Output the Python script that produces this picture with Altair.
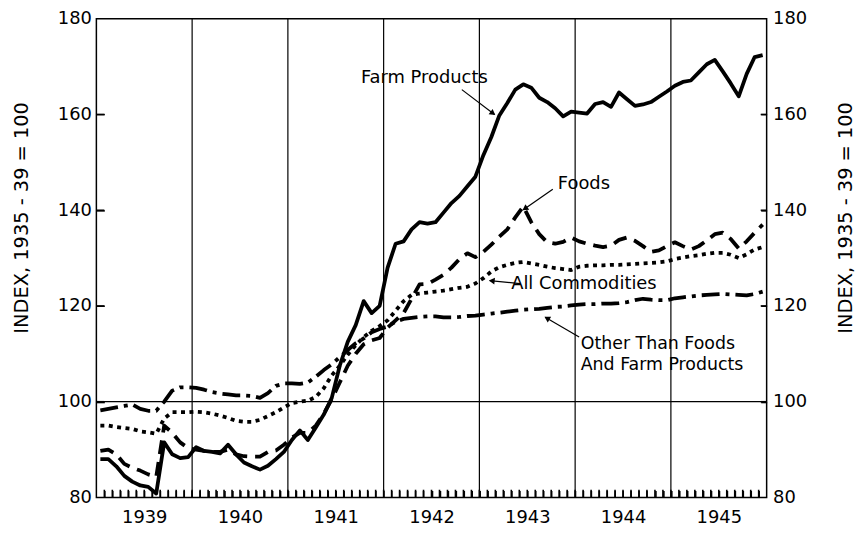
import math
import json
import altair as alt
import pandas as pd

# ---------------- data (monthly index values, Jan 1939 .. Dec 1945) ----------------
YEARS = ["1939", "1940", "1941", "1942", "1943", "1944", "1945"]

FARM = [
    88, 88, 86.5, 84.5, 83.3, 82.5, 82.2, 80.8, 91.5, 89, 88.2, 88.4,
    90.5, 89.7, 89.5, 89.2, 91, 89, 87.3, 86.5, 85.8, 86.6, 88, 89.5,
    92, 94, 92, 94.6, 97.3, 100.8, 107.5, 112.5, 116, 121, 118.5, 120,
    128, 133, 133.5, 136, 137.5, 137.2, 137.5, 139.5, 141.5, 143, 145, 147,
    151.5, 155.3, 159.8, 162.4, 165.2, 166.3, 165.6, 163.5, 162.6, 161.3, 159.6, 160.6,
    160.4, 160.2, 162.2, 162.6, 161.6, 164.6, 163.2, 161.8, 162.1, 162.6, 163.7, 164.8,
    166, 166.8, 167.1, 168.8, 170.5, 171.4, 169, 166.5, 163.8, 168.5, 172, 172.4,
]

FOODS = [
    89.7, 90, 89, 87, 86.2, 85.6, 84.8, 84.3, 95, 93.5, 91.5, 90.3,
    90, 89.7, 89.5, 89.5, 90, 89, 88.6, 88.5, 88.5, 89.5, 89.8, 91,
    92.5, 93.5, 93.5, 95, 97.5, 100.5, 104, 107.5, 110, 112, 112.8, 113.3,
    115.5, 117, 118.5, 121.5, 124.5, 124.6, 125.5, 126.5, 128, 129.8, 131, 130.2,
    131.3, 132.8, 134.5, 136, 138.5, 140.8, 137.5, 135, 133.3, 133, 133.4, 134.3,
    133.5, 133, 132.6, 132.3, 132.6, 133.8, 134.3, 133.6, 132.5, 131.3, 131.6, 132.5,
    133.3, 132.5, 131.8, 132.5, 133.7, 135, 135.3, 134, 132, 133.5, 135.3, 137,
]

ALL_COMM = [
    95, 95, 94.7, 94.5, 94.3, 93.8, 93.6, 93.3, 96.5, 97.8, 97.8, 97.8,
    97.9, 97.8, 97.5, 97.1, 96.6, 96, 95.8, 95.8, 96.2, 97, 97.8, 98.8,
    99.7, 100, 100.2, 101, 102.8, 105.5, 107.5, 109.8, 111.8, 113.5, 114.8, 115.8,
    117, 119, 121, 122.3, 122.6, 122.8, 123, 123.2, 123.5, 123.8, 124, 124.7,
    125.8, 127.2, 128.1, 128.6, 129, 129.2, 128.9, 128.6, 128.2, 127.9, 127.7, 127.5,
    128.2, 128.4, 128.5, 128.5, 128.6, 128.6, 128.7, 128.8, 128.9, 129, 129.1, 129.3,
    129.8, 130.1, 130.4, 130.6, 130.9, 131.1, 131.1, 130.7, 130, 130.8, 131.8, 132.3,
]

OTHER = [
    98.2, 98.5, 98.8, 99.1, 99.4, 98.5, 98.1, 98.1, 100, 102.3, 103, 103,
    102.9, 102.5, 102, 101.7, 101.5, 101.3, 101.3, 101.2, 100.8, 101.8, 103.3, 103.8,
    103.8, 103.7, 104, 105.2, 106.6, 107.8, 109.3, 110.8, 112.2, 113.2, 114.5, 115.2,
    115.7, 116.7, 117.3, 117.5, 117.7, 117.8, 117.8, 117.6, 117.6, 117.7, 117.9, 118,
    118.2, 118.4, 118.6, 118.8, 119, 119.2, 119.3, 119.4, 119.6, 119.8, 119.9, 120.1,
    120.3, 120.4, 120.4, 120.5, 120.5, 120.6, 120.8, 121.2, 121.5, 121.3, 121.2, 121.2,
    121.6, 121.8, 122, 122.2, 122.3, 122.4, 122.5, 122.4, 122.3, 122.2, 122.5, 123,
]

SERIES = ["Farm Products", "Foods", "All Commodities", "Other"]
Y_TICKS = [80, 100, 120, 140, 160, 180]
YEAR_BOUNDS = [11.5, 23.5, 35.5, 47.5, 59.5, 71.5]
YEAR_CENTERS = [5.5, 17.5, 29.5, 41.5, 53.5, 65.5, 77.5]
MONTH_TICKS = [k + 0.5 for k in range(83)]
INNER_TICKS = [100, 120, 140, 160]

# annotation texts (data coordinates: month index, index value)
LABELS_CENTER = ["Farm Products", "Foods", "All Commodities"]
LABELS_CENTER_M = [40.6, 60.6, 60.6]
LABELS_CENTER_V = [167.6, 145.4, 124.6]
LABELS_LEFT = ["Other Than Foods", "And Farm Products"]
LABELS_LEFT_M = [60.2, 60.2]
LABELS_LEFT_V = [112.1, 107.6]
# annotation arrows: start -> tip
ARROW_M1 = [45.3, 56.7, 52.6, 60.0]
ARROW_V1 = [165.2, 144.4, 124.65, 113.5]
ARROW_M2 = [49.4, 53.0, 48.8, 55.75]
ARROW_V2 = [160.0, 140.1, 125.3, 117.65]

# ---------------- layout ----------------
W, H = 675, 482
X_DOMAIN = [-0.5, 83.5]
Y_DOMAIN = [80, 180]
FONT = "DejaVu Sans"
TICK_LEN_V = 1.6  # month-tick length in index units

rows = []
for name, vals in zip(SERIES, [FARM, FOODS, ALL_COMM, OTHER]):
    for i, v in enumerate(vals):
        rows.append({"m": i, "v": v, "series": name})
df = pd.DataFrame(rows)

xs = alt.Scale(domain=X_DOMAIN, nice=False, zero=False)
ys = alt.Scale(domain=Y_DOMAIN, nice=False, zero=False)

x_axis = alt.Axis(
    values=YEAR_CENTERS,
    labelExpr=json.dumps(YEARS) + "[floor(datum.value / 12)]",
    title=None, ticks=False, domain=False, grid=False,
    labelFont=FONT, labelFontSize=18, labelColor="black",
    labelPadding=11, labelOverlap=False, labelFlush=False, orient="bottom",
)
# month ticks pointing up into the plot: a top axis moved down to the bottom edge
x_month_axis = alt.Axis(
    values=MONTH_TICKS, title=None, labels=False, domain=False, grid=False,
    ticks=True, tickSize=7, tickWidth=1.6, tickColor="black",
    orient="top", offset=-H,
)
y_left = alt.Axis(
    values=Y_TICKS, title="INDEX, 1935 - 39 = 100", ticks=False, domain=False, grid=False,
    labelFont=FONT, labelFontSize=18, labelColor="black", labelPadding=5,
    labelOverlap=False, titleFont=FONT, titleFontSize=19.5, titleFontWeight="normal",
    titleColor="black", titleAngle=270, titleX=-75, titleY=200,
    titleAlign="center", titleBaseline="middle", orient="left",
)
y_right = alt.Axis(
    values=Y_TICKS, title="INDEX, 1935 - 39 = 100", ticks=False, domain=False, grid=False,
    labelFont=FONT, labelFontSize=18, labelColor="black", labelPadding=6,
    labelOverlap=False, titleFont=FONT, titleFontSize=19.5, titleFontWeight="normal",
    titleColor="black", titleAngle=270, titleX=79, titleY=200,
    titleAlign="center", titleBaseline="middle", orient="right",
)
y_inner_left = alt.Axis(
    values=INNER_TICKS, title=None, labels=False, domain=False, grid=False,
    ticks=True, tickSize=8, tickWidth=1.5, tickColor="black",
    orient="right", offset=-W,
)
y_inner_right = alt.Axis(
    values=INNER_TICKS, title=None, labels=False, domain=False, grid=False,
    ticks=True, tickSize=6, tickWidth=1.5, tickColor="black",
    orient="left", offset=-W,
)


def series_line(name, dash, width, xaxis=None, yaxis=None):
    kw = dict(color="black", strokeWidth=width, strokeCap="butt", strokeJoin="round")
    if dash:
        kw["strokeDash"] = dash
    return (
        alt.Chart(df)
        .transform_filter(alt.datum.series == name)
        .mark_line(**kw)
        .encode(
            x=alt.X("m:Q", scale=xs, axis=xaxis),
            y=alt.Y("v:Q", scale=ys, axis=yaxis),
        )
    )


farm = series_line("Farm Products", None, 3.8, xaxis=x_axis, yaxis=y_left)
foods = series_line("Foods", [14, 8], 3.8)
allc = series_line("All Commodities", [4, 4.5], 3.8)
other = series_line("Other", [18, 6, 4, 6], 3.8)

year_rules = alt.Chart(pd.DataFrame({"b": YEAR_BOUNDS})).mark_rule(
    color="black", strokeWidth=1.2
).encode(x=alt.X("b:Q", scale=xs, axis=x_month_axis))

h100 = alt.Chart(pd.DataFrame({"v": [100]})).mark_rule(
    color="black", strokeWidth=1.3
).encode(y=alt.Y("v:Q", scale=ys, axis=y_right))

tick_df = pd.DataFrame({
    "t": MONTH_TICKS,
    "y0": [Y_DOMAIN[0]] * len(MONTH_TICKS),
    "y1": [Y_DOMAIN[0] + TICK_LEN_V] * len(MONTH_TICKS),
})
month_ticks = alt.Chart(tick_df).mark_rule(color="black", strokeWidth=1.6).encode(
    x=alt.X("t:Q", scale=xs, axis=None),
    y=alt.Y("y0:Q", scale=ys, axis=None),
    y2="y1:Q",
)

left_ticks = alt.Chart(pd.DataFrame({"v": INNER_TICKS})).mark_rule(
    color="black", strokeWidth=1.5
).encode(y=alt.Y("v:Q", scale=ys, axis=y_inner_left), x=alt.value(0), x2=alt.value(8))

right_ticks = alt.Chart(pd.DataFrame({"v": INNER_TICKS})).mark_rule(
    color="black", strokeWidth=1.5
).encode(y=alt.Y("v:Q", scale=ys, axis=y_inner_right), x=alt.value(W - 6), x2=alt.value(W))

txt_c = alt.Chart(
    pd.DataFrame({"m": LABELS_CENTER_M, "v": LABELS_CENTER_V, "t": LABELS_CENTER})
).mark_text(font=FONT, fontSize=18, color="black", align="center", baseline="middle").encode(
    x=alt.X("m:Q", scale=xs, axis=None), y=alt.Y("v:Q", scale=ys, axis=None), text="t:N"
)
txt_l = alt.Chart(
    pd.DataFrame({"m": LABELS_LEFT_M, "v": LABELS_LEFT_V, "t": LABELS_LEFT})
).mark_text(font=FONT, fontSize=17.5, color="black", align="left", baseline="middle").encode(
    x=alt.X("m:Q", scale=xs, axis=None), y=alt.Y("v:Q", scale=ys, axis=None), text="t:N"
)

# arrow geometry
px_per_m = W / (X_DOMAIN[1] - X_DOMAIN[0])
px_per_v = H / (Y_DOMAIN[1] - Y_DOMAIN[0])
heads = []
for m1, v1, m2, v2 in zip(ARROW_M1, ARROW_V1, ARROW_M2, ARROW_V2):
    dx = (m2 - m1) * px_per_m
    dy = -(v2 - v1) * px_per_v
    ang = math.degrees(math.atan2(dx, -dy)) % 360
    L = math.hypot(dx, dy)
    back = 3.0
    hm = m2 - (dx / L) * back / px_per_m
    hv = v2 + (dy / L) * back / px_per_v
    heads.append({"m": hm, "v": hv, "ang": ang})

arrow_lines = alt.Chart(
    pd.DataFrame({"m": ARROW_M1, "v": ARROW_V1, "m2": ARROW_M2, "v2": ARROW_V2})
).mark_rule(color="black", strokeWidth=1.2).encode(
    x=alt.X("m:Q", scale=xs, axis=None), y=alt.Y("v:Q", scale=ys, axis=None),
    x2="m2:Q", y2="v2:Q",
)
arrow_heads = alt.Chart(pd.DataFrame(heads)).mark_point(
    shape="triangle", filled=True, size=45, color="black", opacity=1
).encode(
    x=alt.X("m:Q", scale=xs, axis=None), y=alt.Y("v:Q", scale=ys, axis=None),
    angle=alt.Angle("ang:Q", scale=None),
)

chart = (
    alt.layer(
        year_rules, h100, month_ticks, left_ticks, right_ticks,
        other, allc, foods, farm,
        arrow_lines, arrow_heads, txt_c, txt_l,
    )
    .resolve_axis(x="independent", y="independent")
    .properties(
        width=W, height=H,
        autosize=alt.AutoSizeParams(type="none"),
        padding={"left": 89, "top": 9, "right": 92, "bottom": 33},
        background="white",
    )
    .configure_view(stroke="black", strokeWidth=1.5)
)

chart.save("out.html", embed_options={"renderer": "svg", "actions": False})
